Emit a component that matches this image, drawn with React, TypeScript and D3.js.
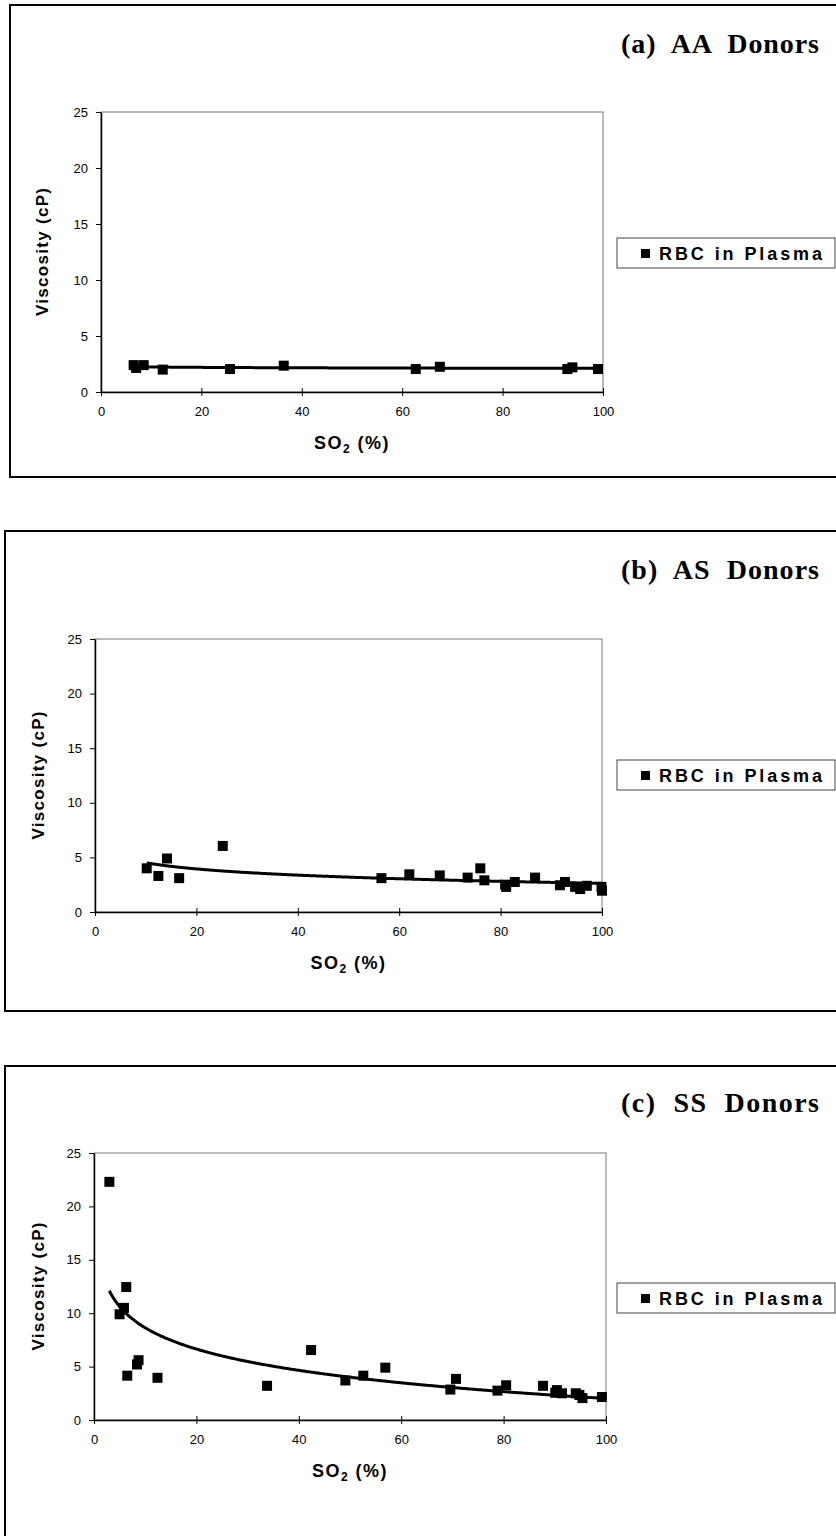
import React, { useEffect, useRef } from 'react';
import * as d3 from 'd3';

// Axis ticks shared by the three panels
const xTicks = [0, 20, 40, 60, 80, 100];
const yTicks = [0, 5, 10, 15, 20, 25];

// (a) AA donors
const so2AA = [6.5, 7.0, 8.5, 12.3, 25.7, 36.4, 62.7, 67.5, 92.9, 93.9, 99.0];
const viscAA = [2.4, 2.15, 2.4, 2.0, 2.05, 2.35, 2.05, 2.25, 2.05, 2.2, 2.05];

// (b) AS donors
const so2AS = [10.2, 12.5, 14.2, 16.6, 25.2, 56.5, 62.0, 68.0, 73.5, 76.0, 76.8, 80.9, 81.1, 82.8, 86.8, 91.7, 92.7, 94.7, 95.7, 97.0, 99.9, 100.0];
const viscAS = [4.0, 3.3, 4.9, 3.1, 6.05, 3.1, 3.45, 3.35, 3.15, 4.0, 2.9, 2.5, 2.3, 2.75, 3.15, 2.45, 2.75, 2.3, 2.1, 2.4, 2.3, 1.95];

// (c) SS donors
const so2SS = [3.0, 5.0, 5.85, 6.3, 6.5, 8.4, 8.7, 12.4, 33.8, 42.4, 49.1, 52.6, 56.9, 69.6, 70.7, 78.8, 80.5, 87.7, 90.1, 90.4, 91.4, 94.1, 94.8, 95.4, 99.2];
const viscSS = [22.3, 9.9, 10.5, 12.45, 4.15, 5.2, 5.6, 3.95, 3.2, 6.55, 3.7, 4.15, 4.9, 2.85, 3.85, 2.75, 3.25, 3.2, 2.55, 2.8, 2.5, 2.5, 2.35, 2.05, 2.15];

const titles = ['(a)  AA  Donors', '(b)  AS  Donors', '(c)  SS  Donors'];
const seriesName = 'RBC in Plasma';
const yTitle = 'Viscosity (cP)';

const SANS = '"Liberation Sans", Arial, sans-serif';
const SERIF = '"Liberation Serif", "Times New Roman", serif';

// page layout of each panel (pixels)
const layout = [
    { boxX: 10, boxY: 5, boxH: 472, x0: 101, x1: 603, y0: 392, y1: 112, titleY: 53, legendY: 238, yLabelX: 42 },
    { boxX: 5, boxY: 531, boxH: 480, x0: 95, x1: 602, y0: 912, y1: 639, titleY: 579, legendY: 760, yLabelX: 38 },
    { boxX: 5, boxY: 1066, boxH: 600, x0: 94, x1: 606, y0: 1420, y1: 1153, titleY: 1112, legendY: 1283, yLabelX: 38 },
];

const series = [
    { xs: so2AA, ys: viscAA },
    { xs: so2AS, ys: viscAS },
    { xs: so2SS, ys: viscSS },
];

// logarithmic least-squares fit, like the spreadsheet trendline
const logFit = (xs: number[], ys: number[]) => {
    const lx = xs.map(v => Math.log(v));
    const mx = d3.mean(lx) as number;
    const my = d3.mean(ys) as number;
    const b = d3.sum(lx, (v, i) => (v - mx) * (ys[i] - my)) / d3.sum(lx, v => (v - mx) ** 2);
    return { a: my - b * mx, b };
};

const App: React.FC = () => {
    const svgRef = useRef<SVGSVGElement>(null);

    useEffect(() => {
        const svg = d3.select(svgRef.current);
        svg.selectAll('*').remove();

        svg.append('rect').attr('width', 836).attr('height', 1536).attr('fill', '#fff');

        layout.forEach((p, idx) => {
            const { xs, ys } = series[idx];
            const x = d3.scaleLinear().domain([0, 100]).range([p.x0, p.x1]);
            const y = d3.scaleLinear().domain([0, 25]).range([p.y0, p.y1]);
            const g = svg.append('g');

            // outer frame (runs off the right edge)
            g.append('rect')
                .attr('x', p.boxX).attr('y', p.boxY)
                .attr('width', 900).attr('height', p.boxH)
                .attr('fill', 'none').attr('stroke', '#000').attr('stroke-width', 2);

            // plot area border
            g.append('rect')
                .attr('x', p.x0).attr('y', p.y1)
                .attr('width', p.x1 - p.x0).attr('height', p.y0 - p.y1)
                .attr('fill', 'none').attr('stroke', '#777').attr('stroke-width', 1);

            // Y axis
            const yAxis = g.append('g')
                .attr('transform', `translate(${p.x0},0)`)
                .call(d3.axisLeft(y).tickValues(yTicks).tickSizeInner(5).tickSizeOuter(0).tickPadding(8));
            yAxis.select('.domain').attr('stroke', '#000').attr('stroke-width', 1.5);
            yAxis.selectAll('.tick line').attr('stroke', '#000');
            yAxis.selectAll('text')
                .attr('font-family', SANS).attr('font-size', 13).attr('fill', '#000');

            // X axis with crossing ticks
            const xAxis = g.append('g')
                .attr('transform', `translate(0,${p.y0})`)
                .call(d3.axisBottom(x).tickValues(xTicks).tickSizeInner(4).tickSizeOuter(0).tickPadding(10.5));
            xAxis.select('.domain').attr('stroke', '#000').attr('stroke-width', 1.5);
            xAxis.selectAll('.tick line').attr('stroke', '#000').attr('y1', -4);
            xAxis.selectAll('text')
                .attr('font-family', SANS).attr('font-size', 13).attr('fill', '#000');

            // axis titles
            g.append('text')
                .attr('transform', `translate(${p.yLabelX},${(p.y0 + p.y1) / 2}) rotate(-90)`)
                .attr('text-anchor', 'middle').attr('dy', '0.35em')
                .attr('font-family', SANS).attr('font-weight', 'bold').attr('font-size', 17)
                .attr('textLength', 128).attr('lengthAdjust', 'spacing')
                .text(yTitle);

            const xt = g.append('text')
                .attr('x', (p.x0 + p.x1) / 2).attr('y', p.y0 + 57)
                .attr('text-anchor', 'middle')
                .attr('font-family', SANS).attr('font-weight', 'bold').attr('font-size', 18)
                .attr('letter-spacing', 1.5);
            xt.append('tspan').text('SO');
            xt.append('tspan').attr('font-size', 12).attr('dy', 4).text('2');
            xt.append('tspan').attr('dy', -4).text(' (%)');

            // trendline
            const fit = logFit(xs, ys);
            const [xmin, xmax] = d3.extent(xs) as [number, number];
            const curve = d3.range(xmin, xmax, 0.25).concat([xmax]).map(v => [v, fit.a + fit.b * Math.log(v)] as [number, number]);
            g.append('path')
                .datum(curve)
                .attr('fill', 'none').attr('stroke', '#000').attr('stroke-width', 3)
                .attr('d', d3.line<[number, number]>().x(d => x(d[0])).y(d => y(d[1])));

            // markers
            const m = 10;
            g.selectAll('rect.pt')
                .data(xs.map((v, i) => [v, ys[i]]))
                .enter()
                .append('rect')
                .attr('class', 'pt')
                .attr('x', d => x(d[0]) - m / 2)
                .attr('y', d => y(d[1]) - m / 2)
                .attr('width', m).attr('height', m)
                .attr('fill', '#000');

            // legend
            g.append('rect')
                .attr('x', 617).attr('y', p.legendY)
                .attr('width', 218).attr('height', 30)
                .attr('fill', '#fff').attr('stroke', '#444').attr('stroke-width', 1);
            g.append('rect')
                .attr('x', 641).attr('y', p.legendY + 11)
                .attr('width', 9).attr('height', 9).attr('fill', '#000');
            g.append('text')
                .attr('x', 659).attr('y', p.legendY + 22)
                .attr('font-family', SANS).attr('font-weight', 'bold').attr('font-size', 18)
                .attr('textLength', 163).attr('lengthAdjust', 'spacing')
                .text(seriesName);

            // panel title
            g.append('text')
                .attr('x', 621).attr('y', p.titleY)
                .attr('font-family', SERIF).attr('font-weight', 'bold').attr('font-size', 28)
                .attr('textLength', 198).attr('lengthAdjust', 'spacing')
                .attr('xml:space', 'preserve')
                .style('white-space', 'pre')
                .text(titles[idx]);
        });
    }, []);

    return (
        <svg
            ref={svgRef}
            width={836}
            height={1536}
            style={{ position: 'absolute', left: 0, top: 0, display: 'block' }}
        ></svg>
    );
};

export default App;
